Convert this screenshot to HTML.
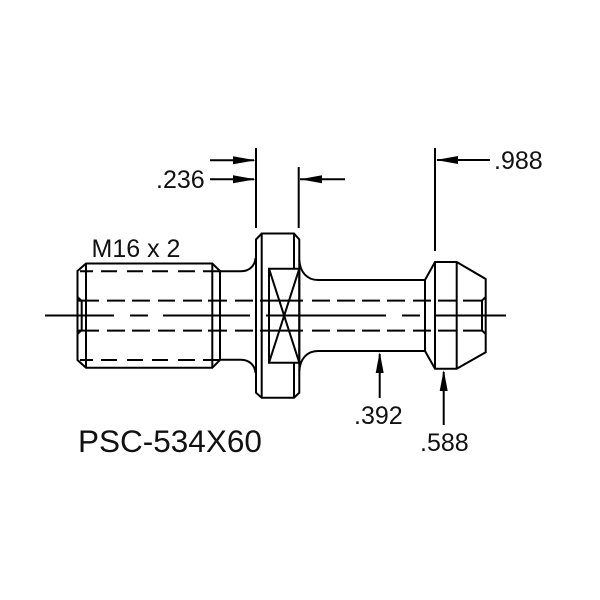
<!DOCTYPE html>
<html>
<head>
<meta charset="utf-8">
<style>
html,body{margin:0;padding:0;background:#fff;width:600px;height:600px;overflow:hidden}
svg{display:block}
text{font-family:"Liberation Sans",sans-serif;fill:#111}
</style>
</head>
<body>
<svg width="600" height="600" viewBox="0 0 600 600" xmlns="http://www.w3.org/2000/svg">
<rect width="600" height="600" fill="#fff"/>
<g fill="none" stroke="#000" stroke-width="2">
<!-- threaded end -->
<path d="M77.5 271L86 263.5H212.3L220 271V360L212.3 367.7H86L77.5 360Z"/>
<path d="M86 263.5V367.7M212.3 263.5V367.7"/>
<path d="M77.5 297L81.7 301V330L77.5 334"/>
<!-- necks -->
<path d="M220 271.3H241C249 271.3 255 266 255.5 258"/>
<path d="M220 359.7H241C249 359.7 255 365 255.5 373"/>
<path d="M299.3 260C300 272 307 280 318 280H425"/>
<path d="M299.3 371C300 359 307 351 318 351H425"/>
<!-- flange -->
<path d="M256 239.5L261.7 233.5H294L299.3 239.5V392.7L294 397.7H261.7L256 392.7Z"/>
<path d="M261.7 233.5V397.7M294 233.5V268.7M294 362.7V397.7"/>
<path d="M269 268.7H299.3V362.7H269Z"/>
<path d="M269 268.7L299.3 362.7M299.3 268.7L269 362.7"/>
<!-- head -->
<path d="M425 280L435 262H456.7L485.7 279V352.3L456.7 368.7H435L425 351Z"/>
<path d="M435 262V368.7M456.7 262V368.7"/>
<path d="M485.7 297L482 300.5V330.5L485.7 334"/>
<!-- thread dashes -->
<path d="M80 271.3H93M101 271.3H117M127 271.3H143M152 271.3H168M178 271.3H195M203 271.3H220"/>
<path d="M80 360H93M101 360H117M127 360H143M152 360H168M178 360H195M203 360H220"/>
<!-- bore dashes -->
<path d="M77.5 300.6H99M107 300.6H125M132 300.6H150M158 300.6H175M183 300.6H202M208 300.6H227M235 300.6H253M260 300.6H303M312 300.6H330M337 300.6H355M362 300.6H380M387 300.6H405M413 300.6H431M438 300.6H456M463 300.6H482"/>
<path d="M77.5 330.6H99M107 330.6H125M132 330.6H150M158 330.6H175M183 330.6H202M208 330.6H227M235 330.6H253M260 330.6H303M312 330.6H330M337 330.6H355M362 330.6H380M387 330.6H405M413 330.6H431M438 330.6H456M463 330.6H482"/>
<!-- centre line -->
<path d="M45 315.5H114M130 315.5H148M163 315.5H250M266 315.5H386M402 315.5H420M435 315.5H506"/>
<!-- dimension lines -->
<path d="M256 148V228M298.7 167V228M435 148V251"/>
<path d="M210 160.3H254M210 179.3H254M300 179.3H345M437 160H490"/>
<path d="M379.7 354V398M443.7 372V425"/>
</g>
<g fill="#000" stroke="none">
<path d="M255.5 160.3L233 156.3V164.3Z"/>
<path d="M255.5 179.3L233 175.3V183.3Z"/>
<path d="M300 179.3L322 175.3V183.3Z"/>
<path d="M436 160L458 156V164Z"/>
<path d="M379.7 352L375.7 373H383.7Z"/>
<path d="M443.7 370L439.7 391H447.7Z"/>
</g>
<text x="91.5" y="257" font-size="25">M16 x 2</text>
<text x="156" y="188" font-size="25">.236</text>
<text x="494" y="169" font-size="25">.988</text>
<text x="354" y="424" font-size="25">.392</text>
<text x="420" y="451" font-size="25">.588</text>
<text x="78" y="452" font-size="31.5">PSC-534X60</text>
</svg>
</body>
</html>
